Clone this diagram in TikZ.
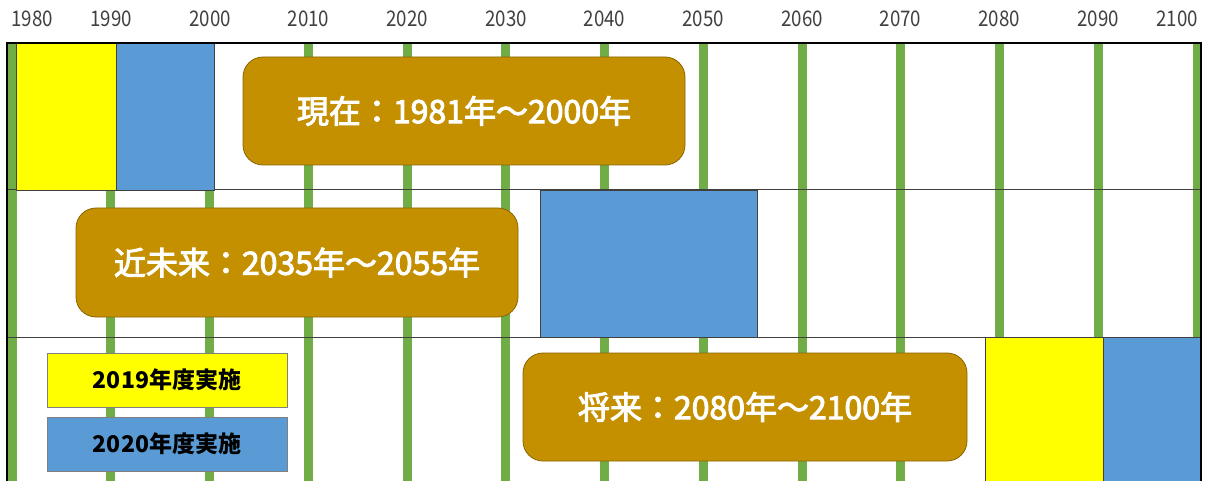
\documentclass[tikz,border=0pt]{standalone}
\usepackage{fontspec}
\setmainfont{Noto Sans CJK JP}
\newfontfamily\yearfont[FakeStretch=0.87]{Noto Sans CJK JP}
\newfontfamily\erafont[FakeBold=3]{Noto Sans CJK JP}
\definecolor{grn}{HTML}{70AD47}
\definecolor{blu}{HTML}{5B9BD5}
\definecolor{ylw}{HTML}{FFFF00}
\definecolor{gld}{HTML}{C49000}
\definecolor{gldd}{HTML}{8A6600}
\definecolor{txtg}{HTML}{404040}
\tikzset{
  gridline/.style={grn, line width=9pt},
  rowline/.style={txtg, line width=1pt},
  frameline/.style={black, line width=1.5pt},
  period/.style={draw=black!75, line width=0.8pt, inner sep=0pt, rectangle},
  era/.style={rectangle, rounded corners=20pt, fill=gld, draw=gldd, line width=0.8pt,
    text=white, inner sep=0pt, font=\erafont\fontsize{32}{36}\selectfont},
  legendbox/.style={rectangle, draw=black!50, line width=0.8pt, inner sep=0pt,
    minimum width=240pt, minimum height=54pt, font=\bfseries\fontsize{23}{26}\selectfont},
  yearlabel/.style={text=txtg, inner sep=0pt, font=\yearfont\fontsize{21.5}{24}\selectfont}
}
\begin{document}
\begin{tikzpicture}[x=1pt,y=-1pt]
\useasboundingbox (0,0) rectangle (1205,481);
\fill[white] (0,0) rectangle (1205,481);
% green decade lines
\foreach \yr in {1980,1990,...,2100}{
  \draw[gridline] ({12+(\yr-1980)*9.875},43) -- ({12+(\yr-1980)*9.875},481);
}
% row lines
\draw[rowline] (7,190) -- (1201,190);
\draw[rowline] (7,337) -- (1201,337);
% period boxes
\node[period, fill=ylw, minimum width=100pt, minimum height=147pt] (p1) at (66,116.5) {};
\node[period, fill=blu, minimum width=98pt, minimum height=147pt] (p2) at (165,116.5) {};
\node[period, fill=blu, minimum width=217pt, minimum height=147pt] (p3) at (648.5,263.5) {};
\node[period, fill=ylw, minimum width=118pt, minimum height=148pt] (p4) at (1044,411) {};
\node[period, fill=blu, minimum width=98pt, minimum height=148pt] (p5) at (1152,411) {};
% era boxes
\node[era, minimum width=442pt, minimum height=108pt] (e1) at (464,111) {現在：1981年～2000年};
\node[era, minimum width=442pt, minimum height=109pt] (e2) at (297,262.5) {近未来：2035年～2055年};
\node[era, minimum width=444pt, minimum height=108pt] (e3) at (745,407) {将来：2080年～2100年};
% legend
\node[legendbox, fill=ylw] (l1) at (167,380) {2019年度実施};
\node[legendbox, fill=blu] (l2) at (167,444) {2020年度実施};
% frame
\draw[frameline] (7,485) -- (7,43) -- (1201,43) -- (1201,485);
% year labels
\node[yearlabel] (y1980) at (32,19) {1980};
\node[yearlabel] (y1990) at (111,19) {1990};
\node[yearlabel] (y2000) at (210,19) {2000};
\node[yearlabel] (y2010) at (308.5,19) {2010};
\node[yearlabel] (y2020) at (407,19) {2020};
\node[yearlabel] (y2030) at (506,19) {2030};
\node[yearlabel] (y2040) at (604.5,19) {2040};
\node[yearlabel] (y2050) at (703,19) {2050};
\node[yearlabel] (y2060) at (802,19) {2060};
\node[yearlabel] (y2070) at (900.5,19) {2070};
\node[yearlabel] (y2080) at (999,19) {2080};
\node[yearlabel] (y2090) at (1098,19) {2090};
\node[yearlabel] (y2100) at (1177,19) {2100};
\end{tikzpicture}
\end{document}
